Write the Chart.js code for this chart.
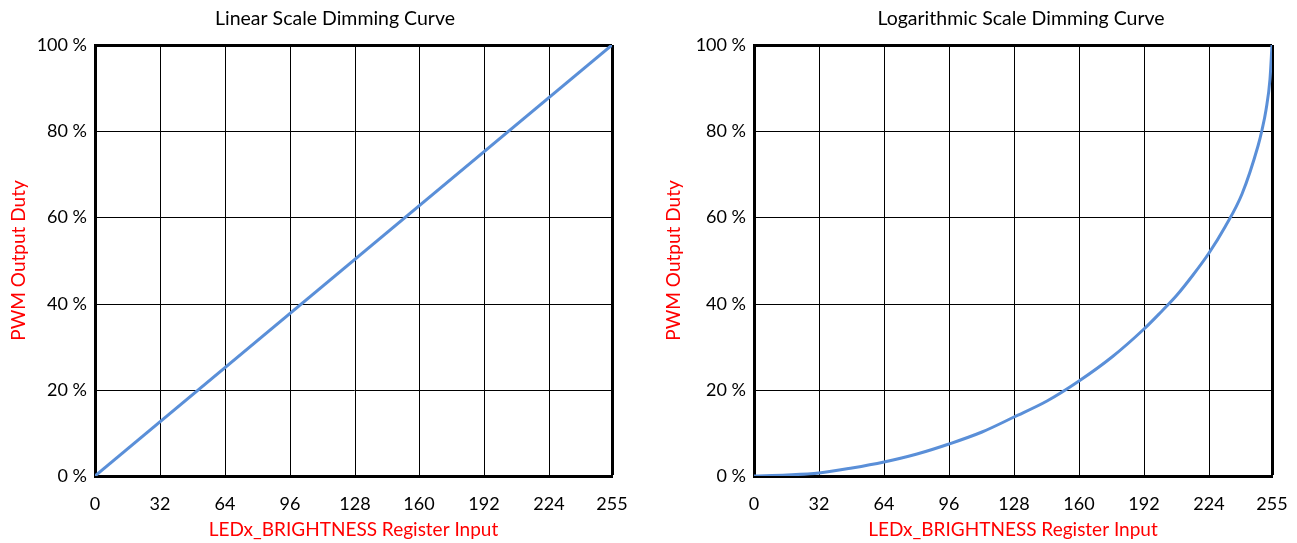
<!DOCTYPE html>
<html>
<head>
<meta charset="utf-8">
<script src="https://cdn.jsdelivr.net/npm/chart.js@4.4.1/dist/chart.umd.min.js"></script>
<style>
  html, body { margin: 0; padding: 0; background: #fff; overflow: hidden; width: 1297px; height: 543px; }
  canvas { position: absolute; top: 0; }
  #c1 { left: 0; }
  #c2 { left: 655px; }
</style>
</head>
<body>
<canvas id="c1" width="670" height="543" style="width:670px;height:543px"></canvas>
<canvas id="c2" width="732" height="543" style="width:732px;height:543px"></canvas>
<script>
// ---- data ----
const xTicks = [0, 32, 64, 96, 128, 160, 192, 224, 255];
const linearX = [0, 255];
const linearY = [0, 100];
const logX = [0, 16, 32, 48, 64, 80, 96, 112, 128, 144, 160, 176, 192, 200, 208, 216, 224, 232, 240, 248, 250, 252, 254, 255];
const logY = [0, 0.2, 0.8, 1.8, 3.2, 5.0, 7.4, 10.2, 13.6, 17.5, 22.1, 27.6, 34.0, 37.8, 41.9, 46.6, 51.7, 57.8, 65.5, 76.5, 80.3, 85.0, 92.0, 100];
const titles = ['Linear Scale Dimming Curve', 'Logarithmic Scale Dimming Curve'];
const xTitle = 'LEDx_BRIGHTNESS Register Input';
const yTitle = 'PWM Output Duty';

const FONT = 'Lato, "Liberation Sans", sans-serif';
const LINE_COLOR = '#5A8FD8';

function pts(xs, ys) { return xs.map((x, i) => ({ x: x, y: ys[i] })); }

function makeChart(id, title, xs, ys, yAxisWidth, rightPad, smooth) {
  return new Chart(document.getElementById(id), {
    type: 'line',
    data: {
      datasets: [{
        data: pts(xs, ys),
        borderColor: LINE_COLOR,
        borderWidth: 3,
        pointRadius: 0,
        fill: false,
        cubicInterpolationMode: smooth ? 'monotone' : 'default',
        tension: 0
      }]
    },
    options: {
      responsive: false,
      animation: false,
      events: [],
      layout: { padding: 0 },
      plugins: {
        legend: { display: false },
        tooltip: { enabled: false },
        title: {
          display: true,
          text: title,
          color: '#000',
          font: { family: FONT, size: 19.5, weight: 'normal' },
          padding: { top: 7, bottom: 14.6 }
        }
      },
      scales: {
        x: {
          type: 'linear',
          min: 0,
          max: 255,
          alignToPixels: true,
          afterBuildTicks: (s) => { s.ticks = xTicks.map(v => ({ value: v })); },
          afterFit: (s) => { s.height = 67; s.paddingRight = rightPad; },
          ticks: {
            color: '#000',
            font: { family: FONT, size: 18 },
            padding: 17,
            maxRotation: 0,
            autoSkip: false
          },
          grid: {
            color: '#000',
            lineWidth: (c) => (c.index === xTicks.length - 1 ? 3 : 1),
            drawTicks: false
          },
          border: { display: true, color: '#000', width: 3 },
          title: {
            display: true,
            text: xTitle,
            color: '#FF0000',
            font: { family: FONT, size: 19 },
            padding: { top: 0, bottom: 2 }
          }
        },
        y: {
          type: 'linear',
          min: 0,
          max: 100,
          alignToPixels: true,
          afterFit: (s) => { s.width = yAxisWidth; },
          ticks: {
            stepSize: 20,
            color: '#000',
            font: { family: FONT, size: 18 },
            padding: 8,
            callback: (v) => v + ' %'
          },
          grid: {
            color: '#000',
            lineWidth: (c) => (c.tick && c.tick.value === 100 ? 3 : 1),
            drawTicks: false
          },
          border: { display: true, color: '#000', width: 3 },
          title: {
            display: true,
            text: yTitle,
            color: '#FF0000',
            font: { family: FONT, size: 19 },
            padding: { top: 7, bottom: 0 }
          }
        }
      }
    }
  });
}

makeChart('c1', titles[0], linearX, linearY, 95, 58, false);
makeChart('c2', titles[1], logX, logY, 99, 115, true);
</script>
</body>
</html>
